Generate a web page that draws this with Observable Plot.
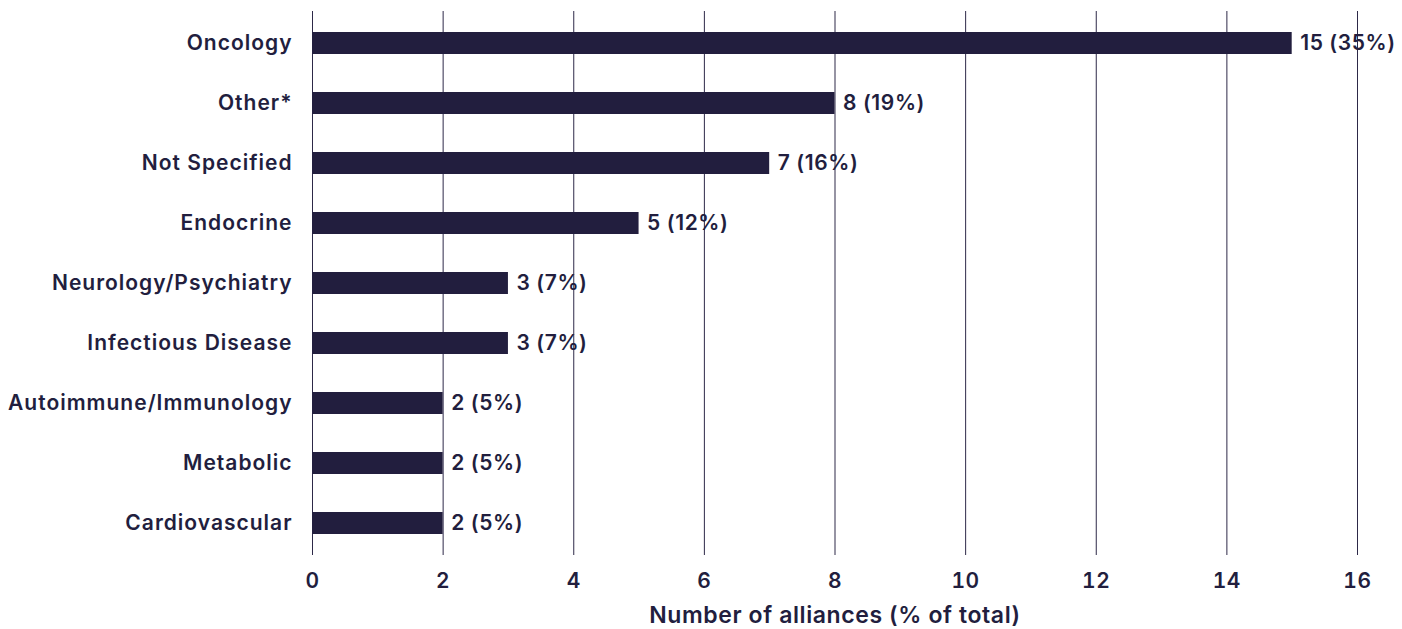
<!DOCTYPE html>
<html>
<head>
<meta charset="utf-8">
<script src="https://cdn.jsdelivr.net/npm/d3@7"></script>
<script src="https://cdn.jsdelivr.net/npm/@observablehq/plot@0.6"></script>
<style>
  html, body { margin: 0; padding: 0; background: #fff; }
  #chart svg { display: block; }
  #chart g[aria-label="y-axis tick label"] text { letter-spacing: 1px; }
  #chart g[aria-label="value labels"] text { letter-spacing: 0px; }
  #chart g[aria-label="x title"] text { letter-spacing: 1.3px; }
</style>
</head>
<body>
<div id="chart"></div>
<script>
const categories = ["Oncology", "Other*", "Not Specified", "Endocrine", "Neurology/Psychiatry", "Infectious Disease", "Autoimmune/Immunology", "Metabolic", "Cardiovascular"];
const counts = [15, 8, 7, 5, 3, 3, 2, 2, 2];
const percents = [35, 19, 16, 12, 7, 7, 5, 5, 5];
const xTicks = [0, 2, 4, 6, 8, 10, 12, 14, 16];
const xLabel = "Number of alliances (% of total)";

const data = categories.map((c, i) => ({category: c, count: counts[i], pct: percents[i], label: `${counts[i]} (${percents[i]}%)`}));

const ink = "#221e3e";
const chart = Plot.plot({
  width: 1402,
  height: 629,
  marginLeft: 312,
  marginRight: 45,
  marginTop: 11,
  marginBottom: 74,
  style: {fontFamily: "Inter, 'Noto Sans', sans-serif", fontSize: "21px", fontWeight: 600, color: ink, background: "#fff", letterSpacing: "0.6px"},
  x: {domain: [0, 16], ticks: xTicks},
  y: {domain: categories, paddingInner: 0.63, paddingOuter: 0.315, align: 0.5},
  marks: [
    Plot.gridX(xTicks, {stroke: ink, strokeOpacity: 0.95, strokeWidth: 1}),
    Plot.barX(data, {x: "count", y: "category", fill: ink}),
    Plot.text(data, {x: "count", y: "category", text: "label", textAnchor: "start", dx: 8, fill: ink, fontSize: 21, fontWeight: 600, ariaLabel: "value labels"}),
    Plot.axisY({tickSize: 0, tickPadding: 20, label: null, fontSize: 21, fontWeight: 600, fill: ink}),
    Plot.axisX(xTicks, {tickSize: 0, tickPadding: 18, fontSize: 21, fontWeight: 600, fill: ink, label: null}),
    Plot.text([xLabel], {frameAnchor: "bottom", dy: 67, fontSize: 23, fontWeight: 600, fill: ink, ariaLabel: "x title"})
  ]
});
document.getElementById("chart").appendChild(chart);
</script>
</body>
</html>
